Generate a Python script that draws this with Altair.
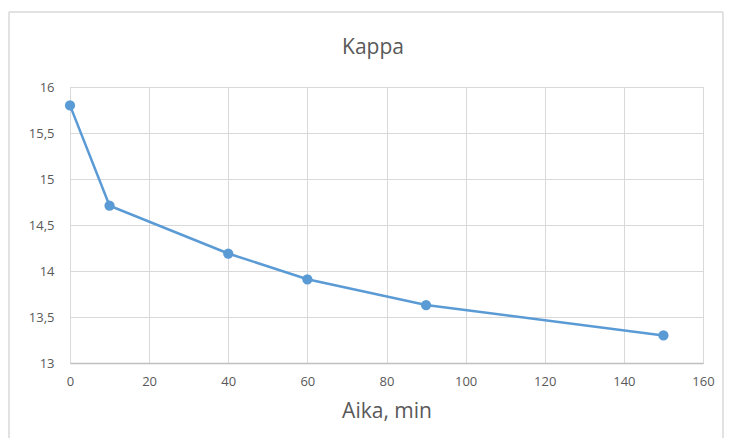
import altair as alt
import pandas as pd

aika = [0, 10, 40, 60, 90, 150]
kappa = [15.80, 14.71, 14.19, 13.91, 13.63, 13.30]
x_ticks = [0, 20, 40, 60, 80, 100, 120, 140, 160]
y_ticks = [13, 13.5, 14, 14.5, 15, 15.5, 16]
title_text = "Kappa"

df = pd.DataFrame({"Aika": aika, "Kappa": kappa})

FONT = "Open Sans"
LBL = "#595959"

x = alt.X("Aika:Q", scale=alt.Scale(domain=[0, 160], nice=False),
          axis=alt.Axis(values=x_ticks, title="Aika, min", titleFontSize=21,
                        titleFont=FONT, titleColor=LBL, titleFontWeight="normal",
                        titlePadding=12, labelFont=FONT, labelFontSize=13,
                        labelColor=LBL, labelPadding=12, ticks=False,
                        labelFlush=False,
                        grid=True, gridColor="#d9d9d9", domainColor="#bfbfbf",
                        domainWidth=1.3))
y = alt.Y("Kappa:Q", scale=alt.Scale(domain=[13, 16], nice=False, zero=False),
          axis=alt.Axis(values=y_ticks, title=None, ticks=False, domain=False,
                        labelFont=FONT, labelFontSize=13, labelColor=LBL,
                        labelPadding=16, gridColor="#d9d9d9", labelFlush=False,
                        labelExpr="replace(format(datum.value, ''), '.', ',')"))

one = pd.DataFrame({"a": [0]})
border_top = alt.Chart(one).mark_rule(color="#d9d9d9", strokeWidth=1.5, clip=False).encode(
    x=alt.value(-61), x2=alt.value(653), y=alt.value(-75))
border_left = alt.Chart(one).mark_rule(color="#d9d9d9", strokeWidth=1.5, clip=False).encode(
    x=alt.value(-61), y=alt.value(-75), y2=alt.value(380))
border_right = alt.Chart(one).mark_rule(color="#d9d9d9", strokeWidth=1.5, clip=False).encode(
    x=alt.value(653), y=alt.value(-75), y2=alt.value(380))

title = alt.Chart(pd.DataFrame({"t": [title_text]})).mark_text(
    font=FONT, fontSize=21, color=LBL, align="center", baseline="alphabetic", clip=False
).encode(text="t:N", x=alt.value(303), y=alt.value(-33))

line = alt.Chart(df).mark_line(color="#5b9bd5", strokeWidth=2.5).encode(x=x, y=y)
pts = alt.Chart(df).mark_circle(color="#5b9bd5", size=105, opacity=1).encode(x=x, y=y)

chart = alt.layer(border_top, border_left, border_right, title, line, pts).properties(
    width=633, height=276,
    autosize=alt.AutoSizeParams(type="none"),
    padding={"left": 62, "top": 79, "right": 21, "bottom": 75},
).configure_view(stroke=None).configure(background="white")

chart.save("out.html", embed_options={"renderer": "svg", "actions": False})
